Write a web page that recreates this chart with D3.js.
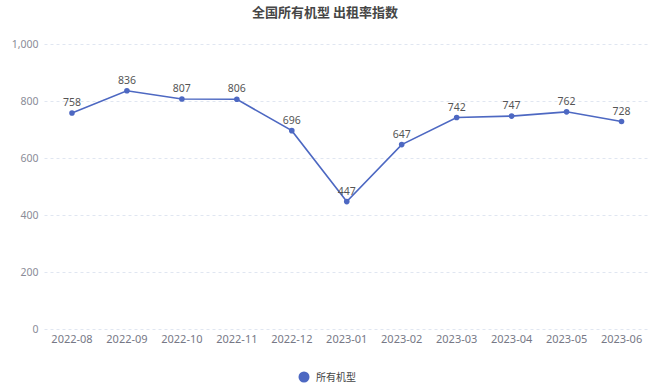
<!DOCTYPE html>
<html>
<head>
<meta charset="utf-8">
<script src="https://cdn.jsdelivr.net/npm/d3@7/dist/d3.min.js"></script>
<style>
  html, body { margin: 0; padding: 0; background: #fff; }
  svg { display: block; font-family: "Noto Sans CJK SC", "Noto Sans", sans-serif; }
</style>
</head>
<body>
<svg id="chart" width="650" height="386"></svg>
<script>
const categories = ["2022-08", "2022-09", "2022-10", "2022-11", "2022-12", "2023-01", "2023-02", "2023-03", "2023-04", "2023-05", "2023-06"];
const values = [758, 836, 807, 806, 696, 447, 647, 742, 747, 762, 728];
const yTicks = [0, 200, 400, 600, 800, 1000];
const seriesName = "所有机型";
const title = "全国所有机型 出租率指数";

const W = 650, H = 386;
const margin = { top: 44, right: 1, bottom: 57, left: 44.5 };
const svg = d3.select("#chart");
const lineColor = "#4d68c2";

const x = d3.scaleBand().domain(categories).range([margin.left, W - margin.right]);
const y = d3.scaleLinear().domain([0, 1000]).range([H - margin.bottom, margin.top]);

// title
svg.append("text")
  .attr("x", W / 2).attr("y", 17)
  .attr("text-anchor", "middle")
  .attr("font-size", 13).attr("font-weight", "bold")
  .attr("fill", "#464646")
  .text(title);

// horizontal grid + y labels
const yAxis = d3.axisLeft(y).tickValues(yTicks).tickFormat(d3.format(",")).tickSize(-(W - margin.right - margin.left)).tickPadding(6);
const gy = svg.append("g").attr("transform", `translate(${margin.left},0)`).call(yAxis);
gy.select(".domain").remove();
gy.selectAll(".tick line").attr("stroke", "#e0e6f1").attr("stroke-dasharray", "3,3");
gy.selectAll(".tick text").attr("fill", "#8a8c97").attr("font-size", 10.5).attr("font-family", "Noto Sans, sans-serif");

// x labels
const xAxis = d3.axisBottom(x).tickSize(0).tickPadding(6);
const gx = svg.append("g").attr("transform", `translate(0,${H - margin.bottom})`).call(xAxis);
gx.select(".domain").remove();
gx.selectAll(".tick text").attr("fill", "#767886").attr("font-size", 11).attr("font-family", "Noto Sans, sans-serif");

const cx = d => x(d) + x.bandwidth() / 2;

// line
const line = d3.line().x((d, i) => cx(categories[i])).y(d => y(d));
svg.append("path").datum(values)
  .attr("d", line).attr("fill", "none")
  .attr("stroke", lineColor).attr("stroke-width", 1.6);

// points
svg.selectAll("circle.pt").data(values).join("circle")
  .attr("class", "pt")
  .attr("cx", (d, i) => cx(categories[i])).attr("cy", d => y(d))
  .attr("r", 2.8).attr("fill", lineColor);

// value labels
svg.selectAll("text.val").data(values).join("text")
  .attr("class", "val")
  .attr("x", (d, i) => cx(categories[i])).attr("y", d => y(d) - 7)
  .attr("text-anchor", "middle")
  .attr("font-size", 10.5).attr("fill", "#555")
  .attr("font-family", "Noto Sans, sans-serif")
  .text(d => d);

// legend
const lg = svg.append("g").attr("transform", "translate(304,377)");
lg.append("circle").attr("r", 5.5).attr("fill", lineColor);
lg.append("text").attr("x", 12).attr("y", 4)
  .attr("font-size", 10).attr("fill", "#444").text(seriesName);
</script>
</body>
</html>
